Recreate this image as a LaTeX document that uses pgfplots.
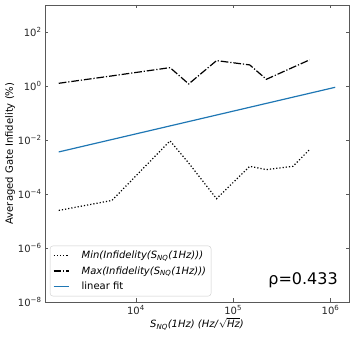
\documentclass[border=0pt]{standalone}
\usepackage{fontspec}
\setmainfont{DejaVu Sans}
\usepackage{pgfplots}
\pgfplotsset{compat=1.18}
\definecolor{mplblue}{HTML}{1F77B4}

\begin{document}
\begin{tikzpicture}
\begin{axis}[
    scale only axis, width=304pt, height=297pt,
    xmode=log, ymode=log,
    xmin=1164, xmax=1.55e6, ymin=1e-8, ymax=1e3,
    xtick={1e4,1e5,1e6},
    xticklabels={10\textsuperscript{4},10\textsuperscript{5},10\textsuperscript{6}},
    ytick={1e-8,1e-6,1e-4,1e-2,1,1e2},
    yticklabels={10\textsuperscript{−8},10\textsuperscript{−6},10\textsuperscript{−4},10\textsuperscript{−2},10\textsuperscript{0},10\textsuperscript{2}},
    xminorticks=false, yminorticks=false,
    tick align=inside, major tick length=3.5pt,
    axis line style={black!65}, tick style={black!65, line width=0.6pt},
    font=\fontsize{10}{12}\selectfont,
    tick label style={black!85},
    xlabel={\textit{S}\textsubscript{\textit{NQ}}\textit{(1Hz)} \textit{(Hz/}\raisebox{0pt}{$\sqrt{\mbox{\itshape Hz}}$}\textit{)}},
    ylabel={Averaged Gate Infidelity (\%)},
    xlabel style={at={(axis description cs:0.5,-0.074)}, anchor=center},
    ylabel style={at={(axis description cs:-0.115,0.5)}, anchor=center},
    legend cell align=left,
    legend style={at={(0.016,0.019)}, anchor=south west, draw=black!20,
        rounded corners=3pt, row sep=2.5pt, inner sep=3pt,
        font=\fontsize{10}{12}\selectfont},
    legend image code/.code={\draw[#1] (0pt,0pt) -- (15pt,0pt); \path[draw=none] (0pt,0pt) -- (26pt,0pt);},
]
% minimum infidelity
\addplot[black, line width=1.2pt, dash pattern=on 1.2pt off 2pt] coordinates {
    (1611,2.46e-5) (5675,5.78e-5) (22440,9.26e-3) (34900,1.40e-3)
    (67450,6.69e-5) (147900,1.06e-3) (219300,8.0e-4) (411100,1.06e-3)
    (609500,4.43e-3)
};
\addlegendentry{\textit{Min(Infidelity(S\textsubscript{NQ}(1Hz)))}}
% maximum infidelity
\addplot[black, line width=1.2pt, dash pattern=on 7.7pt off 1.9pt on 1.2pt off 1.9pt] coordinates {
    (1611,1.26) (5675,2.37) (22440,4.79) (34900,1.19)
    (67450,8.72) (147900,6.04) (219300,1.77) (411100,4.91)
    (609500,9.26)
};
\addlegendentry{\textit{Max(Infidelity(S\textsubscript{NQ}(1Hz)))}}
% linear fit
\addplot[mplblue, line width=1.2pt] coordinates {(1611,0.00361) (1.117e6,0.895)};
\addlegendentry{linear fit}
\node[font=\fontsize{16}{19}\selectfont] at (axis description cs:0.849,0.073) {ρ=0.433};
\end{axis}
\pgfresetboundingbox
\path (current axis.south west) ++(-45pt,-37.3pt) rectangle ([xshift=7pt,yshift=5pt]current axis.north east);
\end{tikzpicture}
\end{document}
